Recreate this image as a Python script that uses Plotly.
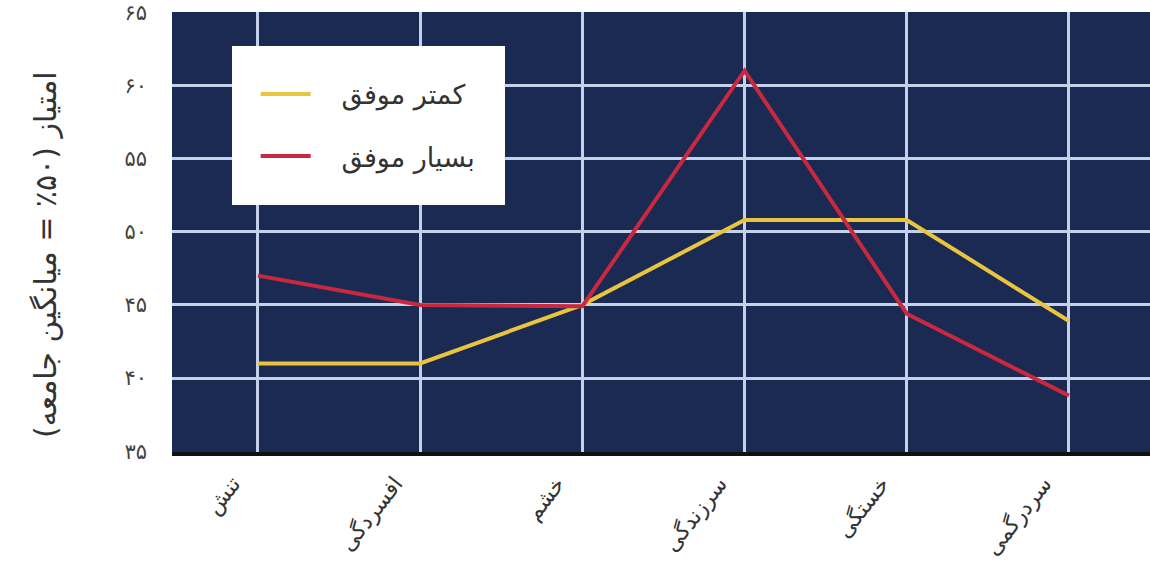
import plotly.graph_objects as go

categories = ["تنش", "افسردگی", "خشم", "سرزندگی", "خستگی", "سردرگمی"]
less_successful = [41, 41, 45, 50.8, 50.8, 43.9]
very_successful = [47, 45, 44.9, 61, 44.4, 38.8]
series_names = ["کمتر موفق", "بسیار موفق"]
y_tickvals = [35, 40, 45, 50, 55, 60, 65]
y_ticktext = ["۳۵", "۴۰", "۴۵", "۵۰", "۵۵", "۶۰", "۶۵"]
y_title = "امتیاز (۵۰٪ = میانگین جامعه)"

FONT = "DejaVu Sans"
x_idx = list(range(len(categories)))
PAD = "\u00a0\u00a0\u00a0"  # visual gap between legend line sample and label

fig = go.Figure()
fig.add_trace(go.Scatter(x=x_idx, y=less_successful, mode="lines", name=PAD + series_names[0],
                         legendgroup="a",
                         line=dict(color="#E9C43F", width=4)))
fig.add_trace(go.Scatter(x=x_idx, y=very_successful, mode="lines", name=PAD + series_names[1],
                         legendgroup="b",
                         line=dict(color="#C9283F", width=4)))

fig.add_annotation(
    text=y_title, textangle=-90,
    xref="paper", yref="paper", x=-0.1299, y=0.45,
    xanchor="center", yanchor="middle", showarrow=False,
    font=dict(size=30, color="#333333", family=FONT),
)

fig.update_layout(
    width=1150, height=561,
    margin=dict(l=172, r=0, t=10, b=109),
    paper_bgcolor="white",
    plot_bgcolor="#1B2A52",
    font=dict(family=FONT, color="#333333"),
    showlegend=True,
    legend=dict(
        x=0.061, y=0.923, xanchor="left", yanchor="top",
        bgcolor="white", bordercolor="white", borderwidth=24,
        font=dict(size=27, color="#333333", family=FONT),
        tracegroupgap=24, traceorder="grouped", itemwidth=50,
    ),
    xaxis=dict(
        range=[-0.53, 5.5],
        tickvals=x_idx, ticktext=categories,
        tickangle=-52,
        showgrid=True, gridcolor="#C5D1E8", gridwidth=3,
        zeroline=False,
        ticks="outside", ticklen=0,
        ticklabelshift=-25, ticklabelstandoff=6,
        showline=True, linecolor="#111111", linewidth=4,
        tickfont=dict(size=22, color="#333333", family=FONT),
    ),
    yaxis=dict(
        range=[34.95, 65.01],
        tickvals=y_tickvals, ticktext=y_ticktext,
        showgrid=True, gridcolor="#C5D1E8", gridwidth=3,
        zeroline=False,
        ticks="", ticklabelstandoff=24,
        ticklabeloverflow="allow",
        tickfont=dict(size=21, color="#444444", family=FONT),
    ),
)

fig.write_html("out.html")
